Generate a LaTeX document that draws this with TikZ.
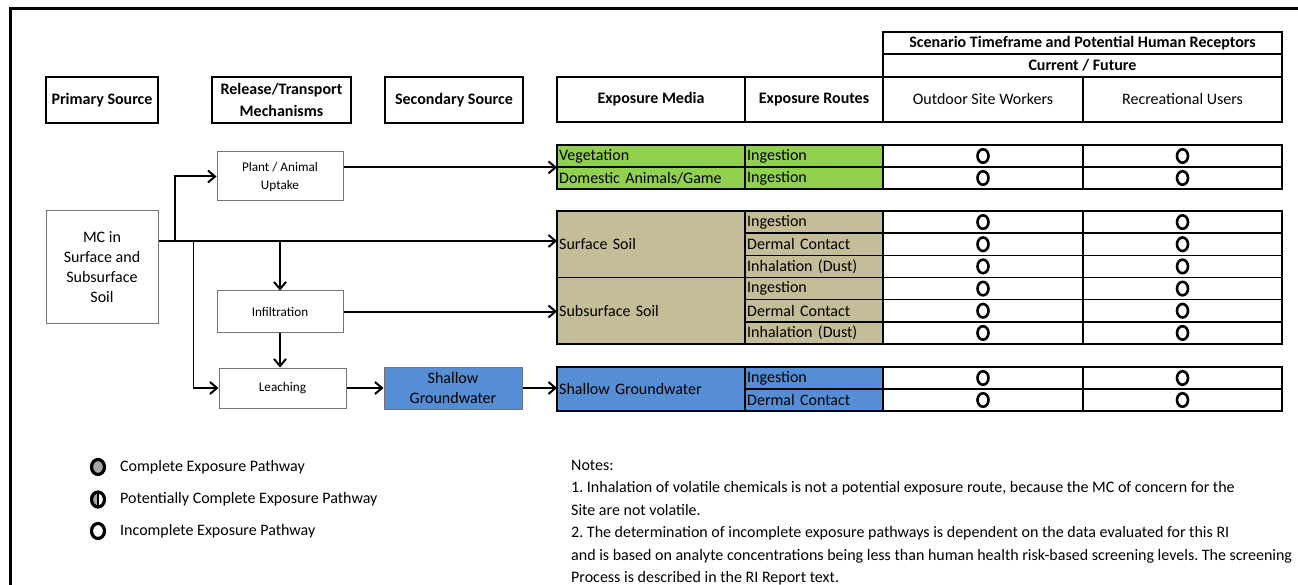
\documentclass[tikz,border=0pt]{standalone}
\usepackage{fontspec}
\setmainfont{Carlito}
\usetikzlibrary{arrows.meta,shapes.geometric,calc}
\frenchspacing
\definecolor{vgreen}{HTML}{92D050}
\definecolor{stan}{HTML}{C4BD97}
\definecolor{gwblue}{HTML}{558ED5}
\definecolor{lgray}{HTML}{A6A6A6}
\newcommand{\fsbig}{\fontsize{16pt}{20pt}\selectfont}
\newcommand{\fssmall}{\fontsize{13.2pt}{18pt}\selectfont}
\newcommand{\fsnote}{\fontsize{16pt}{22pt}\selectfont}
\tikzset{
  hbox/.style={draw, line width=2.5pt, font=\fsbig\bfseries, align=center, inner sep=0pt},
  hcell/.style={draw, line width=2.5pt, font=\fsbig, align=center, inner sep=0pt},
  fbox/.style={draw=black!55, line width=1pt, align=center, inner sep=0pt, fill=white},
  cell/.style={anchor=north west, inner xsep=2pt, inner ysep=0pt, align=left, font=\fsbig},
  arr/.style={line width=2pt, -{Straight Barb[length=7pt,width=12pt]}},
  oc/.style={ellipse, draw, line width=2.6pt, minimum width=11pt, minimum height=13.5pt, inner sep=0pt},
  lc/.style={ellipse, draw, line width=3.2pt, minimum width=13pt, minimum height=15pt, inner sep=0pt},
  ltext/.style={anchor=west, font=\fsbig, inner sep=0pt},
  ntext/.style={anchor=base west, font=\fsnote, inner sep=0pt},
  thick1/.style={line width=1.5pt},
  thick2/.style={line width=2.5pt}
}
\begin{document}
\begin{tikzpicture}[x=1pt,y=-1pt]
\useasboundingbox (0,0) rectangle (1298,585);
% frame
\draw[line width=3pt] (10,585) -- (10,9) -- (1298,9);

% header boxes
\node[hbox, minimum width=112pt, minimum height=46pt] (hps) at (102,100) {Primary Source};
\node[hbox, minimum width=139pt, minimum height=46pt] (hrt) at (281.5,100) {Release/Transport\\[2pt]Mechanisms};
\node[hbox, minimum width=138pt, minimum height=46pt] (hss) at (454,100) {Secondary Source};

% header table
\node[hbox, minimum width=188pt, minimum height=45pt] (hem) at (651,99.5) {Exposure Media};
\node[hbox, minimum width=138pt, minimum height=45pt] (her) at (814,99.5) {Exposure Routes};
\node[hcell, minimum width=200pt, minimum height=45pt] (hos) at (983,99.5) {Outdoor Site Workers};
\node[hcell, minimum width=199pt, minimum height=45pt] (hru) at (1182.5,99.5) {Recreational Users};
\node[hbox, minimum width=399pt, minimum height=22pt] (hsc) at (1082.5,43) {Scenario Timeframe and Potential Human Receptors};
\node[hbox, minimum width=399pt, minimum height=23pt] (hcf) at (1082.5,65.5) {Current / Future};

% ---------- vegetation table ----------
\node[cell, fill=vgreen, text width=184pt, minimum height=22pt] (vm1) at (557,145) {Vegetation};
\node[cell, fill=vgreen, text width=184pt, minimum height=22pt] (vm2) at (557,167) {Domestic Animals/Game};
\node[cell, fill=vgreen, text width=134pt, minimum height=22pt] (vr1) at (745,145) {Ingestion};
\node[cell, fill=vgreen, text width=134pt, minimum height=22pt] (vr2) at (745,167) {Ingestion};
\draw[thick1] (557,167) -- (1282,167);
\draw[thick1] (745,145) -- (745,189);
\draw[thick2] (883,145) -- (883,189);
\draw[thick2] (1083,145) -- (1083,189);
\draw[thick2] (557,145) rectangle (1282,189);
\foreach \yy [count=\i] in {156,178}{
  \node[oc] (vo\i) at (983,\yy) {};
  \node[oc] (vu\i) at (1182.5,\yy) {};
}

% ---------- soil table ----------
\node[cell, fill=stan, text width=184pt, minimum height=66.5pt] (ss) at (557,211) {Surface Soil};
\node[cell, fill=stan, text width=184pt, minimum height=66.5pt] (subs) at (557,277.5) {Subsurface Soil};
\foreach \t [count=\i] in {Ingestion,Dermal Contact,Inhalation (Dust),Ingestion,Dermal Contact,Inhalation (Dust)}{
  \node[cell, fill=stan, text width=134pt, minimum height=22.17pt] (sr\i) at (745,{211+(\i-1)*22.17}) {\t};
  \node[oc] (so\i) at (983,{222.08+(\i-1)*22.17}) {};
  \node[oc] (su\i) at (1182.5,{222.08+(\i-1)*22.17}) {};
}
\foreach \yy in {233.17,255.33,299.67,321.83}{
  \draw[thick1] (745,\yy) -- (1282,\yy);
}
\draw[thick1] (557,277.5) -- (1282,277.5);
\draw[thick1] (745,211) -- (745,344);
\draw[thick2] (883,211) -- (883,344);
\draw[thick2] (1083,211) -- (1083,344);
\draw[thick2] (557,211) rectangle (1282,344);

% ---------- groundwater table ----------
\node[cell, fill=gwblue, text width=184pt, minimum height=44pt] (gwm) at (557,367) {Shallow Groundwater};
\node[cell, fill=gwblue, text width=134pt, minimum height=22pt] (gr1) at (745,367) {Ingestion};
\node[cell, fill=gwblue, text width=134pt, minimum height=22pt] (gr2) at (745,389) {Dermal Contact};
\draw[thick1] (745,389) -- (1282,389);
\draw[thick1] (745,367) -- (745,411);
\draw[thick2] (883,367) -- (883,411);
\draw[thick2] (1083,367) -- (1083,411);
\draw[thick2] (557,367) rectangle (1282,411);
\foreach \yy [count=\i] in {378,400}{
  \node[oc] (go\i) at (983,\yy) {};
  \node[oc] (gu\i) at (1182.5,\yy) {};
}

% ---------- flow boxes ----------
\node[fbox, font=\fsbig, minimum width=112pt, minimum height=112pt] (mc) at (102,267) {MC in\\Surface and\\Subsurface\\Soil};
\node[fbox, font=\fssmall, minimum width=126pt, minimum height=49pt] (pa) at (280,176.5) {Plant / Animal\\Uptake};
\node[fbox, font=\fssmall, minimum width=126pt, minimum height=41pt] (inf) at (280,311.5) {Infiltration};
\node[fbox, font=\fssmall, minimum width=127pt, minimum height=40pt] (lea) at (282.5,388) {Leaching};
\node[fbox, fill=gwblue, font=\fsbig, minimum width=138pt, minimum height=42pt] (sgw) at (453,388) {Shallow\\Groundwater};

% junctions
\coordinate (jA) at (175,241);
\coordinate (jB) at (193,241);
\coordinate (jC) at (280,241);

% connectors
\draw[arr] (mc.east |- jA) -- (ss.west |- jA);
\draw[arr] (jA) |- (pa.west);
\draw[arr] (pa.east |- vm1.south west) -- (vm1.south west);
\draw[arr] (jC) -- (inf.north);
\draw[arr] (inf.east) -- (inf.east -| subs.west);
\draw[arr] (inf.south) -- (inf.south |- lea.north);
\draw[line width=1pt] (jB) -- (jB |- lea.west);
\draw[arr] (jB |- lea.west) -- (lea.west);
\draw[arr] (lea.east) -- (sgw.west);
\draw[arr] (sgw.east) -- (sgw.east -| gwm.west);

% ---------- legend ----------
\node[lc, fill=lgray] (lg1) at (98,467) {};
\node[ltext] (lt1) at (120,467) {Complete Exposure Pathway};
\node[lc, fill=white, path picture={\fill[lgray] (path picture bounding box.north west) rectangle (path picture bounding box.south); \draw[line width=1.4pt] (path picture bounding box.north) -- (path picture bounding box.south);}] (lg2) at (98,499.5) {};
\node[ltext] (lt2) at (120,499.5) {Potentially Complete Exposure Pathway};
\node[lc, fill=white] (lg3) at (98,531) {};
\node[ltext] (lt3) at (120,531) {Incomplete Exposure Pathway};

% ---------- notes ----------
\node[ntext] (n0) at (571,470) {Notes:};
\node[ntext] (n1) at (571,492.5) {1. Inhalation of volatile chemicals is not a potential exposure route, because the MC of concern for the};
\node[ntext] (n2) at (571,515) {Site are not volatile.};
\node[ntext] (n3) at (571,537.5) {2. The determination of incomplete exposure pathways is dependent on the data evaluated for this RI};
\node[ntext] (n4) at (571,560) {and is based on analyte concentrations being less than human health risk-based screening levels. The screening};
\node[ntext] (n5) at (571,582) {Process is described in the RI Report text.};
\end{tikzpicture}
\end{document}
